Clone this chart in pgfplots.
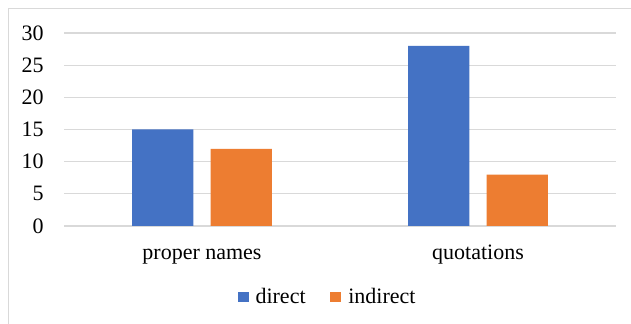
\documentclass[border=0pt]{standalone}
\usepackage{pgfplots}
\pgfplotsset{compat=1.18}
\usepackage{fontspec}
\setmainfont{Liberation Serif}
\definecolor{cblue}{HTML}{4472C4}
\definecolor{corange}{HTML}{ED7D31}
\definecolor{cgrid}{HTML}{D9D9D9}
\begin{document}
\begin{tikzpicture}[x=0.75pt,y=0.75pt]
\useasboundingbox (0,0) rectangle (631,324);
\fill[white] (0,0) rectangle (631,324);
\draw[cgrid, line width=0.9pt] (8.5,-10) -- (8.5,315.5) -- (650,315.5);
\begin{axis}[
  at={(48pt,73.5pt)}, anchor=south west,
  scale only axis, width=414pt, height=144.75pt,
  xmin=-0.5, xmax=1.5, ymin=0, ymax=30,
  ytick={0,5,...,30},
  xtick={0,1}, xticklabels={proper names, quotations},
  axis line style={draw=none},
  major tick length=0pt,
  ymajorgrids, grid style={cgrid, line width=0.9pt},
  /pgf/number format/assume math mode=true,
  ticklabel style={font=\fontsize{16.5pt}{19pt}\selectfont},
  yticklabel style={anchor=east, inner sep=0pt, xshift=-15pt},
  xticklabel style={anchor=base, inner sep=0pt, yshift=-25.5pt},
  ybar, bar width=46.1pt,
  legend style={draw=none, fill=none, at={(0.478,-0.368)}, anchor=center,
    legend columns=2, font=\fontsize{16.5pt}{19pt}\selectfont,
    /tikz/every even column/.append style={column sep=16.5pt}},
  legend image code/.code={\fill[#1] (0pt,-4.1pt) rectangle (8.25pt,4.1pt); \path (11.5pt,0pt);},
  clip=false,
]
\draw[cgrid, line width=0.9pt] (axis cs:-0.5,0) -- (axis cs:1.5,0);
\addplot[fill=cblue, draw=none, bar shift=-29.44pt] coordinates {(0,15) (1,28)};
\addplot[fill=corange, draw=none, bar shift=29.44pt] coordinates {(0,12) (1,8)};
\legend{direct, indirect}
\end{axis}
\end{tikzpicture}
\end{document}
